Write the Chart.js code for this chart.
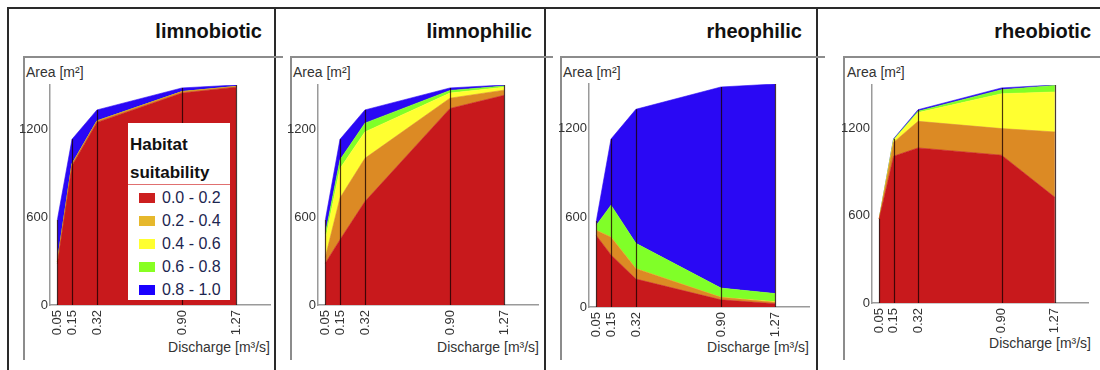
<!DOCTYPE html>
<html>
<head>
<meta charset="utf-8">
<script src="https://cdn.jsdelivr.net/npm/chart.js@4.4.1/dist/chart.umd.min.js"></script>
<style>
  html, body { margin:0; padding:0; background:#fff; }
  body { width:1100px; height:370px; position:relative; overflow:hidden; font-family:"Liberation Sans", Arial, sans-serif; }
  .line { position:absolute; }
  .title { position:absolute; font-weight:bold; font-size:20px; color:#111; text-align:right; white-space:nowrap; line-height:20px; }
  .ytitle { position:absolute; font-size:14px; color:#333; white-space:nowrap; line-height:14px; }
  .xtitle { position:absolute; font-size:14px; color:#333; white-space:nowrap; line-height:14px; text-align:right; }
  canvas { position:absolute; }
  #legend { position:absolute; left:128px; top:123px; width:102px; height:177px; background:#fff; }
  #legend .lt { position:absolute; left:2px; font-weight:bold; font-size:17px; color:#111; line-height:17px; }
  #legend .sep { position:absolute; left:0; top:61px; width:102px; height:1px; background:#e07070; }
  #legend .item { position:absolute; left:11px; height:18px; font-size:16px; line-height:18px; color:#1c2550; white-space:nowrap; }
  #legend .sw { display:inline-block; width:16px; height:10px; margin-right:7px; vertical-align:middle; position:relative; top:-1px; }
</style>
</head>
<body>
<script>
// ---------------- data ----------------
const xValues = [0.05, 0.15, 0.32, 0.90, 1.27];
const xTickLabels = ['0.05', '0.15', '0.32', '0.90', '1.27'];
const yTicks = [0, 600, 1200];
const suitabilityClasses = ['0.0 - 0.2', '0.2 - 0.4', '0.4 - 0.6', '0.6 - 0.8', '0.8 - 1.0'];
const panelTitles = ['limnobiotic', 'limnophilic', 'rheophilic', 'rheobiotic'];

const limnobiotic_00_02 = [280, 950, 1245, 1445, 1485];
const limnobiotic_02_04 = [15, 12, 10, 10, 5];
const limnobiotic_04_06 = [0, 0, 0, 0, 0];
const limnobiotic_06_08 = [0, 0, 0, 0, 0];
const limnobiotic_08_10 = [285, 168, 75, 25, 10];

const limnophilic_00_02 = [285, 445, 705, 1340, 1430];
const limnophilic_02_04 = [40, 285, 295, 70, 35];
const limnophilic_04_06 = [120, 200, 180, 35, 20];
const limnophilic_06_08 = [40, 60, 60, 18, 8];
const limnophilic_08_10 = [95, 140, 90, 17, 7];

const rheophilic_00_02 = [480, 350, 188, 48, 22];
const rheophilic_02_04 = [35, 120, 70, 17, 10];
const rheophilic_04_06 = [0, 0, 0, 0, 3];
const rheophilic_06_08 = [35, 215, 170, 62, 55];
const rheophilic_08_10 = [30, 445, 902, 1353, 1410];

const rheobiotic_00_02 = [578, 1010, 1067, 1017, 727];
const rheobiotic_02_04 = [0, 95, 183, 183, 450];
const rheobiotic_04_06 = [1, 15, 60, 240, 275];
const rheobiotic_06_08 = [1, 5, 10, 28, 45];
const rheobiotic_08_10 = [0, 5, 10, 12, 3];

// ---------------- styles ----------------
const areaColors = ['#c8191c', '#dc8a24', '#ffff30', '#80ff28', '#2a08f4'];
const legendColors = ['#cc1f1f', '#e6b82c', '#ffff30', '#88ff22', '#1a00ff'];

const panelSeries = [
  [limnobiotic_00_02, limnobiotic_02_04, limnobiotic_04_06, limnobiotic_06_08, limnobiotic_08_10],
  [limnophilic_00_02, limnophilic_02_04, limnophilic_04_06, limnophilic_06_08, limnophilic_08_10],
  [rheophilic_00_02, rheophilic_02_04, rheophilic_04_06, rheophilic_06_08, rheophilic_08_10],
  [rheobiotic_00_02, rheobiotic_02_04, rheobiotic_04_06, rheobiotic_06_08, rheobiotic_08_10]
];

// page layout (chart areas etc.)
const layout = [
  { L: 50,  R: 270,  T: 85, B: 305, titleR: 262, frameX: 23,  frameEnd: 283, ytX: 26,  xtR: 270, xtY: 340 },
  { L: 318, R: 538,  T: 85, B: 305, titleR: 532, frameX: 290, frameEnd: 553, ytX: 293, xtR: 539, xtY: 340 },
  { L: 589, R: 809,  T: 84, B: 307, titleR: 802, frameX: 560, frameEnd: 825, ytX: 563, xtR: 809, xtY: 340 },
  { L: 872, R: 1088, T: 85, B: 303, titleR: 1091, frameX: 843, frameEnd: 1100, ytX: 847, xtR: 1091, xtY: 336 }
];
const dividers = [8, 275, 545, 817];

function addLine(x, y, w, h, color) {
  const d = document.createElement('div');
  d.className = 'line';
  d.style.left = x + 'px'; d.style.top = y + 'px';
  d.style.width = w + 'px'; d.style.height = h + 'px';
  d.style.background = color;
  document.body.appendChild(d);
}

// outer frame
addLine(7, 7, 1093, 2, '#2a2a2a');
dividers.forEach(x => addLine(x - 1, 7, 2, 363, '#2a2a2a'));

const verticalLinesPlugin = {
  id: 'verticalLines',
  afterDatasetsDraw(chart) {
    const ctx = chart.ctx;
    const xs = chart.scales.x, ys = chart.scales.y;
    const dsets = chart.data.datasets;
    ctx.save();
    ctx.strokeStyle = 'rgba(25,0,0,0.78)';
    ctx.lineWidth = 1.2;
    xValues.forEach((xv, i) => {
      let total = 0;
      dsets.forEach(ds => { total += ds.data[i].y; });
      const px = Math.round(xs.getPixelForValue(xv)) + 0.5;
      ctx.beginPath();
      ctx.moveTo(px, ys.getPixelForValue(0));
      ctx.lineTo(px, ys.getPixelForValue(total));
      ctx.stroke();
    });
    ctx.restore();
  }
};

layout.forEach((lay, p) => {
  // inner frame
  addLine(lay.frameX, 56, lay.frameEnd - lay.frameX, 1.5, '#8c8c8c');
  addLine(lay.frameX, 56, 1.5, 304, '#8c8c8c');

  // title
  const t = document.createElement('div');
  t.className = 'title';
  t.textContent = panelTitles[p];
  t.style.right = (1100 - lay.titleR) + 'px';
  t.style.top = '21px';
  document.body.appendChild(t);

  // axis titles
  const yt = document.createElement('div');
  yt.className = 'ytitle';
  yt.textContent = 'Area [m²]';
  yt.style.left = lay.ytX + 'px';
  yt.style.top = '65px';
  document.body.appendChild(yt);

  const xt = document.createElement('div');
  xt.className = 'xtitle';
  xt.textContent = 'Discharge [m³/s]';
  xt.style.right = (1100 - lay.xtR) + 'px';
  xt.style.top = lay.xtY + 'px';
  document.body.appendChild(xt);

  // canvas
  const padL = 30, padT = 25, padR = 6, padB = 36;
  const cx = lay.L - padL, cy = lay.T - padT;
  const cw = lay.R + padR - cx, ch = lay.B + padB - cy;
  const cv = document.createElement('canvas');
  cv.style.left = cx + 'px'; cv.style.top = cy + 'px';
  cv.style.width = cw + 'px'; cv.style.height = ch + 'px';
  cv.width = cw; cv.height = ch;
  document.body.appendChild(cv);

  const series = panelSeries[p];
  const datasets = series.map((vals, k) => ({
    label: suitabilityClasses[k],
    data: vals.map((v, i) => ({ x: xValues[i], y: v })),
    backgroundColor: areaColors[k],
    borderColor: areaColors[k],
    borderWidth: 0.6,
    pointRadius: 0,
    tension: 0,
    fill: k === 0 ? 'origin' : '-1'
  }));

  new Chart(cv, {
    type: 'line',
    data: { datasets },
    options: {
      responsive: false,
      animation: false,
      devicePixelRatio: 1,
      layout: { padding: { left: 0, top: padT, right: padR, bottom: 0 } },
      plugins: { legend: { display: false }, tooltip: { enabled: false } },
      scales: {
        x: {
          type: 'linear', min: 0, max: 1.5,
          grid: { display: false, drawTicks: false },
          border: { display: true, color: '#9a9a9a', width: 1.5 },
          afterBuildTicks: s => { s.ticks = xValues.map(v => ({ value: v })); },
          afterFit: s => { s.height = padB; },
          ticks: {
            autoSkip: false, minRotation: 90, maxRotation: 90, padding: 5,
            color: '#333',
            font: { family: "'Liberation Sans Narrow', 'Liberation Sans', Arial, sans-serif", size: 13 },
            callback: (v) => { const i = xValues.indexOf(v); return i >= 0 ? xTickLabels[i] : ''; }
          }
        },
        y: {
          type: 'linear', min: 0, max: 1500, stacked: true,
          grid: { display: false, drawTicks: false },
          border: { display: true, color: '#9a9a9a', width: 1.5 },
          afterBuildTicks: s => { s.ticks = yTicks.map(v => ({ value: v })); },
          afterFit: s => { s.width = padL; },
          ticks: {
            padding: 2, color: '#333',
            font: { family: "'Liberation Sans Narrow', 'Liberation Sans', Arial, sans-serif", size: 13 },
            callback: v => String(v)
          }
        }
      }
    },
    plugins: [verticalLinesPlugin]
  });
});

// legend (panel 1)
const lg = document.createElement('div');
lg.id = 'legend';
lg.innerHTML = '<div class="lt" style="top:13px">Habitat</div><div class="lt" style="top:41px">suitability</div><div class="sep"></div>';
suitabilityClasses.forEach((c, k) => {
  const it = document.createElement('div');
  it.className = 'item';
  it.style.top = (66 + k * 23) + 'px';
  it.innerHTML = '<span class="sw" style="background:' + legendColors[k] + '"></span>' + c;
  lg.appendChild(it);
});
document.body.appendChild(lg);
</script>
</body>
</html>
